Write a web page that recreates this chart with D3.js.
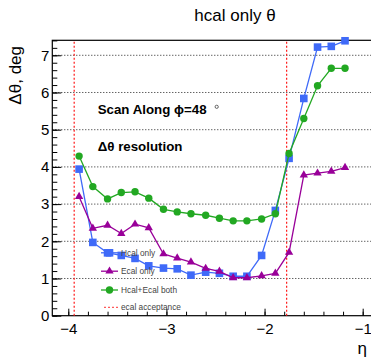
<!DOCTYPE html>
<html>
<head>
<meta charset="utf-8">
<script src="https://cdn.jsdelivr.net/npm/d3@7"></script>
<style>
html,body{margin:0;padding:0;background:#fff;}
svg{display:block;font-family:"Liberation Sans",Arial,Helvetica,sans-serif;}
</style>
</head>
<body>
<svg id="c" width="371" height="359"></svg>
<script>
// ---- data ----
const eta = [-3.89, -3.75, -3.60, -3.46, -3.32, -3.18, -3.03, -2.89, -2.75, -2.60,
             -2.46, -2.32, -2.18, -2.03, -1.89, -1.75, -1.60, -1.46, -1.32, -1.18];
const hcalOnly = [3.94, 1.97, 1.69, 1.62, 1.54, 1.34, 1.28, 1.26, 1.09, 1.17,
                  1.14, 1.06, 1.06, 1.62, 2.83, 4.23, 5.84, 7.22, 7.24, 7.39];
const ecalOnly = [3.20, 2.35, 2.43, 2.21, 2.46, 2.36, 1.66, 1.55, 1.44, 1.27,
                  1.19, 1.02, 1.02, 1.07, 1.14, 1.70, 3.78, 3.83, 3.88, 3.98];
const hcalEcalBoth = [4.29, 3.47, 3.14, 3.31, 3.33, 3.16, 2.86, 2.79, 2.74, 2.70,
                      2.62, 2.55, 2.55, 2.60, 2.74, 4.36, 5.30, 6.18, 6.65, 6.65];
const ecalAcceptance = [-3.94, -1.775];
const xTicks = [-4, -3, -2, -1];
const yTicks = [0, 1, 2, 3, 4, 5, 6, 7];
const seriesNames = ["Hcal only", "Ecal only", "Hcal+Ecal both", "ecal acceptance"];
const titleText = "hcal only θ";

// ---- layout ----
const svg = d3.select("#c");
const L = 52.3, T = 40.3, B = 315.7;
const x = d3.scaleLinear().domain([-4.163, -0.9]).range([L, L + 3.263 * 98.13]);
const y = d3.scaleLinear().domain([0, 7.403]).range([B, T]);
const R = x.range()[1];

const blue = "#3f6af8", purple = "#990099", green = "#22a822", red = "#ff1a1a";

// grid lines (horizontal dotted)
svg.append("g").selectAll("line").data(yTicks.filter(d => d > 0)).join("line")
  .attr("x1", L).attr("x2", R)
  .attr("y1", d => y(d)).attr("y2", d => y(d))
  .attr("stroke", "#222").attr("stroke-width", 1).attr("stroke-dasharray", "1,2");

// frame
svg.append("rect").attr("x", L).attr("y", T).attr("width", R - L).attr("height", B - T)
  .attr("fill", "none").attr("stroke", "#000").attr("stroke-width", 1.2);

// axes
const minorX = d3.range(-4.2, -0.85, 0.2).filter(v => v >= -4.163 && v <= -0.9);
const minorY = d3.range(0, 7.41, 0.2);

const gx = svg.append("g").attr("transform", `translate(0,${B})`);
gx.call(d3.axisBottom(x).tickValues(minorX).tickSize(-4).tickFormat(""));
gx.call(g => g.select(".domain").remove());
const gx2 = svg.append("g").attr("transform", `translate(0,${B})`);
gx2.call(d3.axisBottom(x).tickValues(xTicks).tickSize(-7).tickPadding(7.5).tickFormat(d3.format("d")));
gx2.select(".domain").remove();
[gx, gx2].forEach(g => g.selectAll("line").attr("stroke", "#000").attr("stroke-width", 1));
gx2.selectAll("text").attr("font-size", 15).attr("fill", "#000")
  .attr("font-family", "'Liberation Sans',Arial,sans-serif");

const gy = svg.append("g").attr("transform", `translate(${L},0)`);
gy.call(d3.axisLeft(y).tickValues(minorY).tickSize(-5).tickFormat(""));
gy.select(".domain").remove();
const gy2 = svg.append("g").attr("transform", `translate(${L},0)`);
gy2.call(d3.axisLeft(y).tickValues(yTicks).tickSize(-9).tickPadding(3).tickFormat(d3.format("d")));
gy2.select(".domain").remove();
[gy, gy2].forEach(g => g.selectAll("line").attr("stroke", "#000").attr("stroke-width", 1));
gy2.selectAll("text").attr("font-size", 15).attr("fill", "#000")
  .attr("font-family", "'Liberation Sans',Arial,sans-serif");

// acceptance lines
svg.append("g").selectAll("line").data(ecalAcceptance).join("line")
  .attr("x1", d => x(d)).attr("x2", d => x(d)).attr("y1", B).attr("y2", T)
  .attr("stroke", red).attr("stroke-width", 1.2).attr("stroke-dasharray", "2,2");

// series
const line = d3.line().x(d => x(d[0])).y(d => y(d[1]));
function drawSeries(vals, color, shape) {
  const pts = eta.map((e, i) => [e, vals[i]]);
  const g = svg.append("g");
  g.append("path").datum(pts).attr("d", line).attr("fill", "none")
    .attr("stroke", color).attr("stroke-width", 1.3);
  drawMarkers(g, pts.map(p => [x(p[0]), y(p[1])]), color, shape);
}
function drawMarkers(g, xy, color, shape) {
  if (shape === "square") {
    g.selectAll("rect").data(xy).join("rect")
      .attr("x", d => d[0] - 3.8).attr("y", d => d[1] - 3.8)
      .attr("width", 7.6).attr("height", 7.6).attr("fill", color);
  } else if (shape === "circle") {
    g.selectAll("circle").data(xy).join("circle")
      .attr("cx", d => d[0]).attr("cy", d => d[1]).attr("r", 3.7).attr("fill", color);
  } else {
    const sym = d3.symbol().type(d3.symbolTriangle).size(30);
    g.selectAll("path.m").data(xy).join("path").attr("class", "m")
      .attr("transform", d => `translate(${d[0]},${d[1]})`).attr("d", sym).attr("fill", color);
  }
}
drawSeries(hcalOnly, blue, "square");
drawSeries(ecalOnly, purple, "triangle");
drawSeries(hcalEcalBoth, green, "circle");

// legend
const legY = [252.8, 271.2, 290, 307.3];
const legColors = [blue, purple, green, red];
const legShapes = ["square", "triangle", "circle", null];
const lg = svg.append("g");
seriesNames.forEach((name, i) => {
  const yy = legY[i];
  const ln = lg.append("line").attr("x1", 101).attr("x2", 118).attr("y1", yy).attr("y2", yy)
    .attr("stroke", legColors[i]).attr("stroke-width", 1.3);
  if (legShapes[i]) {
    drawMarkers(lg.append("g"), [[109.5, yy]], legColors[i], legShapes[i]);
  } else {
    ln.attr("x1", 104).attr("stroke-dasharray", "2,2").attr("stroke-width", 1.2).attr("stroke", "#ff5a5a");
  }
  lg.append("text").attr("x", 121).attr("y", yy + 3).attr("font-size", 8.3)
    .attr("fill", "#444").text(name);
});

// texts
svg.append("text").attr("x", 235).attr("y", 21).attr("text-anchor", "middle")
  .attr("font-size", 17).attr("fill", "#000").text(titleText);
svg.append("text").attr("transform", "translate(21,46) rotate(-90)").attr("text-anchor", "end")
  .attr("font-size", 17).attr("fill", "#000").text("Δθ, deg");
svg.append("text").attr("x", 367).attr("y", 354).attr("text-anchor", "end")
  .attr("font-size", 17).attr("fill", "#000").text("η");
svg.append("text").attr("x", 97.7).attr("y", 114).attr("font-size", 13.3)
  .attr("font-weight", "bold").attr("fill", "#000").text("Scan Along ϕ=48");
svg.append("circle").attr("cx", 216.7).attr("cy", 106.8).attr("r", 1.6)
  .attr("fill", "none").attr("stroke", "#555").attr("stroke-width", 0.9);
svg.append("text").attr("x", 97.7).attr("y", 150.7).attr("font-size", 13.3)
  .attr("font-weight", "bold").attr("fill", "#000").text("Δθ resolution");
</script>
</body>
</html>
